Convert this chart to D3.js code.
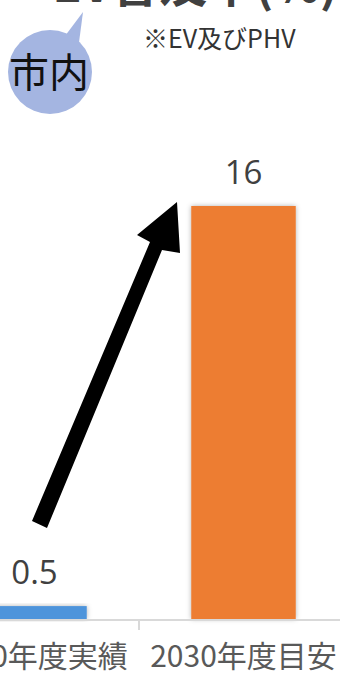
<!DOCTYPE html>
<html>
<head>
<meta charset="utf-8">
<script src="https://cdn.jsdelivr.net/npm/d3@7"></script>
<style>
  body { margin: 0; background: #fff; }
  svg { display: block; font-family: "Noto Sans CJK JP", "Noto Sans", sans-serif; }
</style>
</head>
<body>
<svg width="340" height="673"></svg>
<script>
var categories = ["2020年度実績", "2030年度目安"],
    values = [0.5, 16],
    barColors = ["#4e94db", "#ed7d31"],
    title = "EV普及率(%)",
    note = "※EV及びPHV",
    bubbleText = "市内";

var svg = d3.select("svg"),
    width = +svg.attr("width"),
    height = +svg.attr("height"),
    baseY = 619;

var x = d3.scaleBand()
    .domain(categories)
    .range([-70, 348])
    .paddingInner(0.5)
    .paddingOuter(0.25);

var y = d3.scaleLinear()
    .domain([0, 16])
    .range([baseY, 206]);

var defs = svg.append("defs");
var f = defs.append("filter").attr("id", "shadow")
    .attr("x", "-20%").attr("y", "-20%").attr("width", "140%").attr("height", "140%");
f.append("feDropShadow")
    .attr("dx", 0).attr("dy", 0).attr("stdDeviation", 2.5)
    .attr("flood-color", "#000").attr("flood-opacity", 0.3);

// title (cut off at top)
svg.append("text")
    .attr("x", 195).attr("y", 2)
    .attr("text-anchor", "middle")
    .style("font-size", "48px").attr("font-weight", "bold")
    .attr("fill", "#404040")
    .text(title);

svg.append("text")
    .attr("x", 143).attr("y", 48)
    .style("font-size", "25px")
    .attr("fill", "#333")
    .text(note);

// speech bubble
var bubble = svg.append("g");
bubble.append("path")
    .attr("d", "M62,40 L83,12 L78,50 Z")
    .attr("fill", "#a4b5e1");
bubble.append("circle")
    .attr("cx", 50).attr("cy", 72).attr("r", 42)
    .attr("fill", "#a4b5e1");
bubble.append("text")
    .attr("x", 49).attr("y", 87)
    .attr("text-anchor", "middle")
    .style("font-size", "40px")
    .attr("fill", "#111")
    .text(bubbleText);

// bars
svg.selectAll("rect.bar")
    .data(values)
    .enter().append("rect")
    .attr("class", "bar")
    .attr("x", function(d, i) { return x(categories[i]); })
    .attr("y", function(d) { return y(d); })
    .attr("width", x.bandwidth())
    .attr("height", function(d) { return baseY - y(d); })
    .attr("fill", function(d, i) { return barColors[i]; })
    .attr("filter", "url(#shadow)");

// value labels
svg.selectAll("text.val")
    .data(values)
    .enter().append("text")
    .attr("class", "val")
    .attr("x", function(d, i) { return x(categories[i]) + x.bandwidth() / 2; })
    .attr("y", function(d) { return y(d) - 22; })
    .attr("text-anchor", "middle")
    .style("font-family", "Open Sans, sans-serif")
    .style("font-size", "33px")
    .attr("fill", "#404040")
    .text(function(d) { return d; });

// axis
svg.append("line")
    .attr("x1", 0).attr("x2", width)
    .attr("y1", baseY + 1).attr("y2", baseY + 1)
    .attr("stroke", "#d9d9d9").attr("stroke-width", 2);

var mid = (x(categories[0]) + x.bandwidth() + x(categories[1])) / 2;
svg.append("line")
    .attr("x1", mid).attr("x2", mid)
    .attr("y1", baseY).attr("y2", baseY + 11)
    .attr("stroke", "#d9d9d9").attr("stroke-width", 2);

svg.selectAll("text.cat")
    .data(categories)
    .enter().append("text")
    .attr("class", "cat")
    .attr("x", function(d) { return x(d) + x.bandwidth() / 2; })
    .attr("y", 667)
    .attr("text-anchor", "middle")
    .style("font-size", "30px")
    .attr("fill", "#595959")
    .text(function(d) { return d; });

// arrow
svg.append("path")
    .attr("d", "M32,521 L47,528 L162,250 L180,253 L177,202 L137,235 L150,242 Z")
    .attr("fill", "#000");
</script>
</body>
</html>
